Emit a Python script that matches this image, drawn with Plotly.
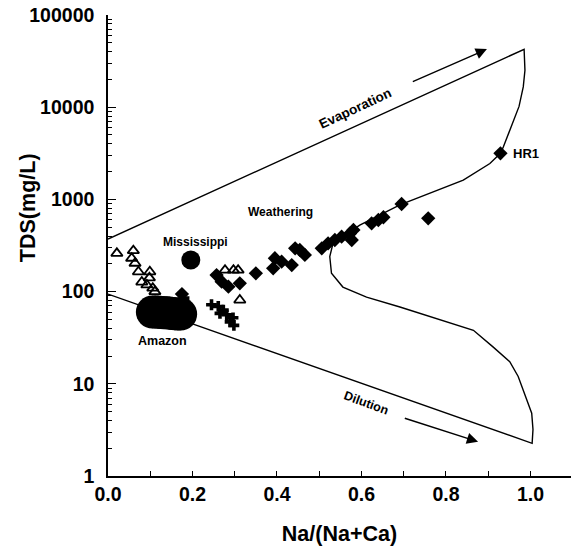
import math
import plotly.graph_objects as go

# ---- data ----
boundary_x = [0.0, 0.985, 0.987, 0.983, 0.973, 0.955, 0.936, 0.929, 0.904, 0.841, 0.691,
              0.596, 0.533, 0.525, 0.529, 0.556, 0.612, 0.691, 0.786, 0.865, 0.912,
              0.951, 0.971, 0.991, 1.003, 1.006, 1.004, 0.0]
boundary_y = [372, 42500, 25100, 16600, 10200, 6170, 3720, 3160, 2450, 1620, 871,
              525, 339, 240, 158, 112, 87, 68, 49, 38, 25,
              17.4, 12, 6.6, 4.8, 3.2, 2.26, 94]

tri_x = [0.021, 0.060, 0.056, 0.064, 0.072, 0.099, 0.098, 0.080, 0.092, 0.106, 0.111,
         0.194, 0.277, 0.297, 0.308, 0.312]
tri_y = [260, 278, 230, 203, 164, 164, 141, 127, 118, 109, 100,
         63, 171, 171, 171, 81]

dia_x = [0.175, 0.257, 0.269, 0.285, 0.312, 0.350, 0.391, 0.395, 0.411, 0.435, 0.443,
         0.454, 0.466, 0.506, 0.521, 0.537, 0.553, 0.573, 0.581, 0.577, 0.624,
         0.640, 0.652, 0.695, 0.758, 0.929]
dia_y = [94, 151, 128, 113, 123, 158, 179, 230, 211, 194, 295,
         283, 250, 295, 334, 363, 394, 428, 466, 363, 550,
         598, 640, 891, 624, 3160]

plus_x = [0.180, 0.245, 0.261, 0.273, 0.281, 0.289, 0.265, 0.296, 0.298]
plus_y = [85, 72, 69, 63, 56, 47, 58, 52, 43]

amazon_x = [0.105, 0.112, 0.118, 0.125, 0.132, 0.138, 0.145, 0.152, 0.158, 0.165, 0.172]
amazon_y = [60, 60, 60, 59.5, 59, 59, 58.5, 58, 57.5, 57, 57]

miss_x = [0.196]
miss_y = [220]

x_tickvals = [0.0, 0.2, 0.4, 0.6, 0.8, 1.0]
x_ticktext = ["0.0", "0.2", "0.4", "0.6", "0.8", "1.0"]
y_tickvals = [1, 10, 100, 1000, 10000, 100000]
y_ticktext = ["1", "10", "100", "1000", "10000", "100000"]

FONT = "Liberation Sans, Arial, sans-serif"

fig = go.Figure()
fig.add_trace(go.Scatter(x=boundary_x, y=boundary_y, mode="lines",
                         line=dict(color="black", width=1.4), hoverinfo="skip"))
fig.add_trace(go.Scatter(x=amazon_x, y=amazon_y, mode="markers",
                         marker=dict(symbol="circle", size=33, color="black",
                                     line=dict(width=0))))
fig.add_trace(go.Scatter(x=miss_x, y=miss_y, mode="markers",
                         marker=dict(symbol="circle", size=19, color="black",
                                     line=dict(width=0))))
fig.add_trace(go.Scatter(x=tri_x, y=tri_y, mode="markers",
                         marker=dict(symbol="triangle-up-open", size=10, color="black",
                                     line=dict(width=1.8, color="black"))))
fig.add_trace(go.Scatter(x=dia_x, y=dia_y, mode="markers",
                         marker=dict(symbol="diamond", size=11, color="black",
                                     line=dict(width=0))))
fig.add_trace(go.Scatter(x=plus_x, y=plus_y, mode="markers",
                         marker=dict(symbol="cross", size=9, color="black",
                                     line=dict(width=0))))


def label(text, x, y, size=12.5, angle=0, xanchor="center"):
    fig.add_annotation(x=x, y=y, xref="x", yref="y", text="<b>%s</b>" % text,
                       showarrow=False, textangle=angle, xanchor=xanchor,
                       yanchor="middle", font=dict(family=FONT, size=size, color="black"))


label("Evaporation", 0.585, math.log10(9800), size=13.5, angle=-25)
label("Dilution", 0.611, math.log10(6.2), size=12.5, angle=20)
label("Weathering", 0.409, math.log10(727), size=12)
label("Mississippi", 0.206, math.log10(346), size=12)
label("Amazon", 0.129, math.log10(29.1), size=12.5)
label("HR1", 0.955, math.log10(3170), size=13, xanchor="left")

# arrows
fig.add_annotation(x=0.897, y=4.63, ax=0.718, ay=4.27, xref="x", yref="y",
                   axref="x", ayref="y", text="", showarrow=True, arrowhead=2,
                   arrowsize=1.6, arrowwidth=1.4, arrowcolor="black")
fig.add_annotation(x=0.876, y=0.371, ax=0.699, ay=0.632, xref="x", yref="y",
                   axref="x", ayref="y", text="", showarrow=True, arrowhead=2,
                   arrowsize=1.6, arrowwidth=1.4, arrowcolor="black")

# y-axis title
fig.add_annotation(x=-0.173, y=0.583, xref="paper", yref="paper",
                   text="<b>TDS(mg/L)</b>", showarrow=False, textangle=-90,
                   xanchor="center", yanchor="middle",
                   font=dict(family=FONT, size=21.5, color="black"))

minor_y = [m * 10 ** d for d in range(0, 5) for m in range(2, 10)]

fig.update_layout(
    width=574, height=549,
    margin=dict(l=108, r=3, t=15, b=73),
    paper_bgcolor="white", plot_bgcolor="white",
    showlegend=False,
    font=dict(family=FONT, color="black"),
    xaxis=dict(range=[0, 1.096], showgrid=False, zeroline=False,
               showline=True, linecolor="black", linewidth=1.5,
               tickmode="array", tickvals=x_tickvals, ticktext=x_ticktext,
               ticks="inside", ticklen=5, tickwidth=1.2, tickcolor="black",
               tickfont=dict(family=FONT, size=19.5, color="black", weight="bold"),
               minor=dict(tickvals=[0.1, 0.3, 0.5, 0.7, 0.9, 1.1], ticks="inside",
                          ticklen=5, tickwidth=1.2, tickcolor="black"),
               title=dict(text="<b>Na/(Na+Ca)</b>", standoff=22,
                          font=dict(family=FONT, size=21.5, color="black"))),
    yaxis=dict(type="log", range=[0, 5], showgrid=False, zeroline=False,
               showline=True, linecolor="black", linewidth=1.5,
               tickmode="array", tickvals=y_tickvals, ticktext=y_ticktext,
               ticks="inside", ticklen=8, tickwidth=1.2, tickcolor="black",
               ticklabelstandoff=8,
               tickfont=dict(family=FONT, size=19.5, color="black", weight="bold"),
               minor=dict(tickvals=minor_y, ticks="inside", ticklen=4,
                          tickwidth=1, tickcolor="black")),
)

fig.write_html("out.html")
